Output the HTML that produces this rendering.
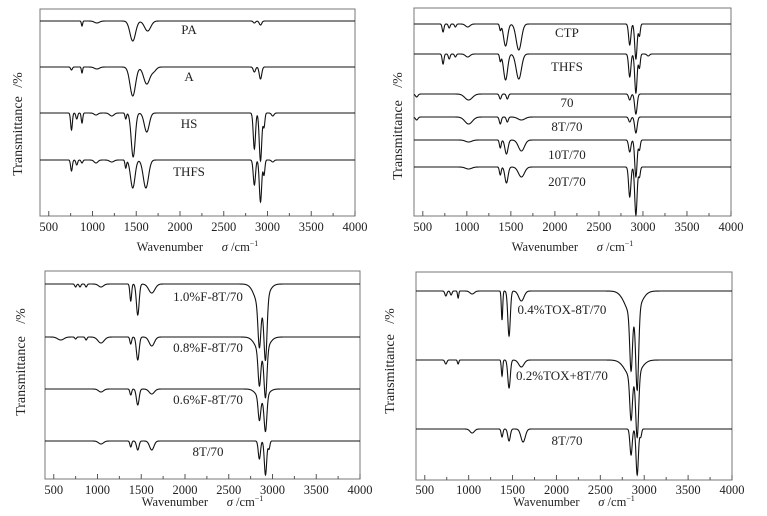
<!DOCTYPE html>
<html><head><meta charset="utf-8"><style>
html,body{margin:0;padding:0;background:#fff;}
svg{display:block;font-family:"Liberation Serif",serif;}
</style></head><body>
<svg id="fig" width="767" height="516" viewBox="0 0 767 516" xmlns="http://www.w3.org/2000/svg"></svg>
<script>
// ---- data (arbitrary transmittance units; peaks: [wavenumber, depth, width]) ----
const xTicks = [500,1000,1500,2000,2500,3000,3500,4000];
const xMinor = [750,1250,1750,2250,2750,3250,3750];

const p1Names = ["PA","A","HS","THFS"];
const p1Base = [195,149,103,56];
const p1Peaks = [
 [[880,5,10],[1050,2,40],[1460,20,45],[1630,10,50],[2850,2,18],[2920,4,20]],
 [[760,3,14],[880,6,10],[1050,2,40],[1460,29,45],[1620,17,50],[1700,4,40],[2850,5,18],[2920,12,20]],
 [[760,17,14],[820,6,14],[880,10,12],[1040,2,30],[1220,3,35],[1380,6,12],[1465,44,32],[1620,19,40],[2850,36,18],[2920,48,20],[2960,14,14],[3060,3,20]],
 [[760,11,14],[820,5,14],[880,3,14],[1040,3,30],[1220,2,35],[1380,8,12],[1460,28,36],[1610,28,42],[2850,25,18],[2920,42,19],[2960,15,14],[3060,2,20]]
];
const p1Labels = [[2103,186],[2103,139],[2103,92],[2103,44]];

const p2Names = ["CTP","THFS","70","8T/70","10T/70","20T/70"];
const p2Base = [192,162,122,99,76,49];
const p2Peaks = [
 [[730,8,14],[800,4,14],[870,3,14],[1010,3,35],[1380,6,12],[1440,22,32],[1590,26,42],[2850,21,18],[2920,35,19],[2960,12,14]],
 [[730,10,14],[800,5,14],[870,3,14],[1010,3,35],[1380,7,12],[1440,26,32],[1590,25,42],[2850,23,18],[2920,39,19],[2960,14,14],[3060,2,20]],
 [[430,3,20],[1020,6,60],[1380,5,16],[1460,5,16],[2850,6,18],[2920,20,20]],
 [[430,3,20],[1020,7,60],[1380,7,16],[1460,5,16],[1620,3,55],[2850,5,18],[2920,16,20]],
 [[1020,2,50],[1380,8,14],[1450,14,25],[1620,11,48],[2850,12,18],[2920,37,19],[2960,10,14]],
 [[1020,2,50],[1380,8,14],[1450,16,25],[1620,10,48],[2850,30,18],[2920,48,19],[2960,10,14]]
];
const p2Labels = [[2137,183],[2137,149],[2137,113],[2137,89],[2137,61],[2137,34]];

const p3Names = ["1.0%F-8T/70","0.8%F-8T/70","0.6%F-8T/70","8T/70"];
const p3Base = [195,142,90,38];
const p3Peaks = [
 [[750,3,14],[800,3,14],[870,3,14],[1040,3,40],[1380,17,14],[1460,31,22],[1620,9,50],[2850,40,22],[2920,58,24],[2870,25,90]],
 [[580,3,50],[750,2,14],[870,3,14],[1040,6,50],[1380,7,14],[1460,23,22],[1620,9,42],[2850,33,21],[2920,46,23],[2880,18,90]],
 [[1040,3,40],[1380,6,14],[1460,16,22],[1620,5,42],[2850,22,20],[2920,34,22],[2880,11,80]],
 [[1040,3,40],[1380,6,14],[1460,9,20],[1620,9,35],[2850,18,18],[2920,34,19],[2960,8,14]]
];
const p3Labels = [[2263,182],[2263,131],[2263,79],[2263,27]];

const p4Names = ["0.4%TOX-8T/70","0.2%TOX+8T/70","8T/70"];
const p4Base = [189,120,51];
const p4Peaks = [
 [[740,5,16],[800,4,14],[880,7,10],[1040,3,35],[1380,29,11],[1460,45,20],[1600,10,42],[2850,55,21],[2920,78,23],[2870,26,110]],
 [[740,4,16],[880,4,11],[1380,16,11],[1460,28,20],[1600,7,42],[2850,42,21],[2920,62,23],[2870,19,110]],
 [[1040,4,35],[1380,8,14],[1460,12,20],[1620,13,35],[2850,26,18],[2920,46,19],[2960,8,14]]
];
const p4Labels = [[2063,170],[2063,104],[2120,39]];

// ---- layout ----
const panels = [
 {id:"top-left",x0:40,x1:355,y0:9,y1:216,names:p1Names,base:p1Base,peaks:p1Peaks,labels:p1Labels,yt:22,xt:251,tl:231,tc:136,uc:80},
 {id:"top-right",x0:414,x1:731,y0:8,y1:216,names:p2Names,base:p2Base,peaks:p2Peaks,labels:p2Labels,yt:402,xt:251,tl:231,tc:140,uc:80},
 {id:"bottom-left",x0:45,x1:360,y0:271,y1:479,names:p3Names,base:p3Base,peaks:p3Peaks,labels:p3Labels,yt:25,xt:506,tl:494,tc:376,uc:316},
 {id:"bottom-right",x0:416,x1:732,y0:272,y1:480,names:p4Names,base:p4Base,peaks:p4Peaks,labels:p4Labels,yt:394,xt:506,tl:494,tc:374,uc:316}
];
const NS="http://www.w3.org/2000/svg";
const svg=document.getElementById('fig');
function mk(tag,attrs,parent){const e=document.createElementNS(NS,tag);for(const k in attrs)e.setAttribute(k,attrs[k]);(parent||svg).appendChild(e);return e;}

panels.forEach(p=>{
  const g=mk('g',{});
  
  
  const H=p.y1-p.y0;
  const sx=v=>p.x0+(v-400)/3600*(p.x1-p.x0);
  const sy=v=>p.y1-v;
  const box=mk('rect',{x:p.x0,y:p.y0,width:p.x1-p.x0,height:H,fill:'none',stroke:'#777','stroke-width':1},g);
  
  
  xTicks.forEach(t=>{
    const l=mk('line',{x1:sx(t),x2:sx(t),y1:p.y1,y2:p.y1-5,stroke:'#555','stroke-width':1},g);
    
    
    const tx=mk('text',{x:sx(t),y:p.tl,'font-size':12.5,'text-anchor':'middle',fill:'#222'},g);
    tx.textContent=t;
    
    
  });
  xMinor.forEach(t=>{
    const l=mk('line',{x1:sx(t),x2:sx(t),y1:p.y1,y2:p.y1-3,stroke:'#555','stroke-width':1},g);
    
    
  });
  const xt=mk('text',{x:(p.x0+p.x1)/2,y:p.xt,'font-size':12.5,'text-anchor':'middle',fill:'#222'},g);
  xt.innerHTML='Wavenumber&#160;&#160;&#160;&#160;&#160;&#160;<tspan font-style="italic">σ</tspan> /cm<tspan font-size="8" dy="-5">−1</tspan>';
  
  
  const yt=mk('text',{x:p.yt,y:p.tc,'font-size':14,'text-anchor':'middle',fill:'#222',transform:`rotate(-90 ${p.yt} ${p.tc})`},g);
  yt.textContent='Transmittance';
  
  
  const yu=mk('text',{x:p.yt,y:p.uc,'font-size':14,'text-anchor':'middle',fill:'#222',transform:`rotate(-90 ${p.yt} ${p.uc})`},g);
  yu.textContent='/%';
  
  
  p.names.forEach((nm,i)=>{
    let d='';
    for(let w=400;w<=4000;w+=2){
      let v=p.base[i];
      p.peaks[i].forEach(pk=>{v-=pk[1]*Math.exp(-Math.pow((w-pk[0])/pk[2],2));});
      d+=(w===400?'M':'L')+sx(w).toFixed(2)+' '+sy(v).toFixed(2);
    }
    const path=mk('path',{d:d,fill:'none',stroke:'#111','stroke-width':1.1},g);
    
    
    const lb=mk('text',{x:sx(p.labels[i][0]),y:sy(p.labels[i][1])+4,'font-size':13,'text-anchor':'middle',fill:'#222'},g);
    lb.textContent=nm;
    
    
  });
});
</script>
</body></html>
